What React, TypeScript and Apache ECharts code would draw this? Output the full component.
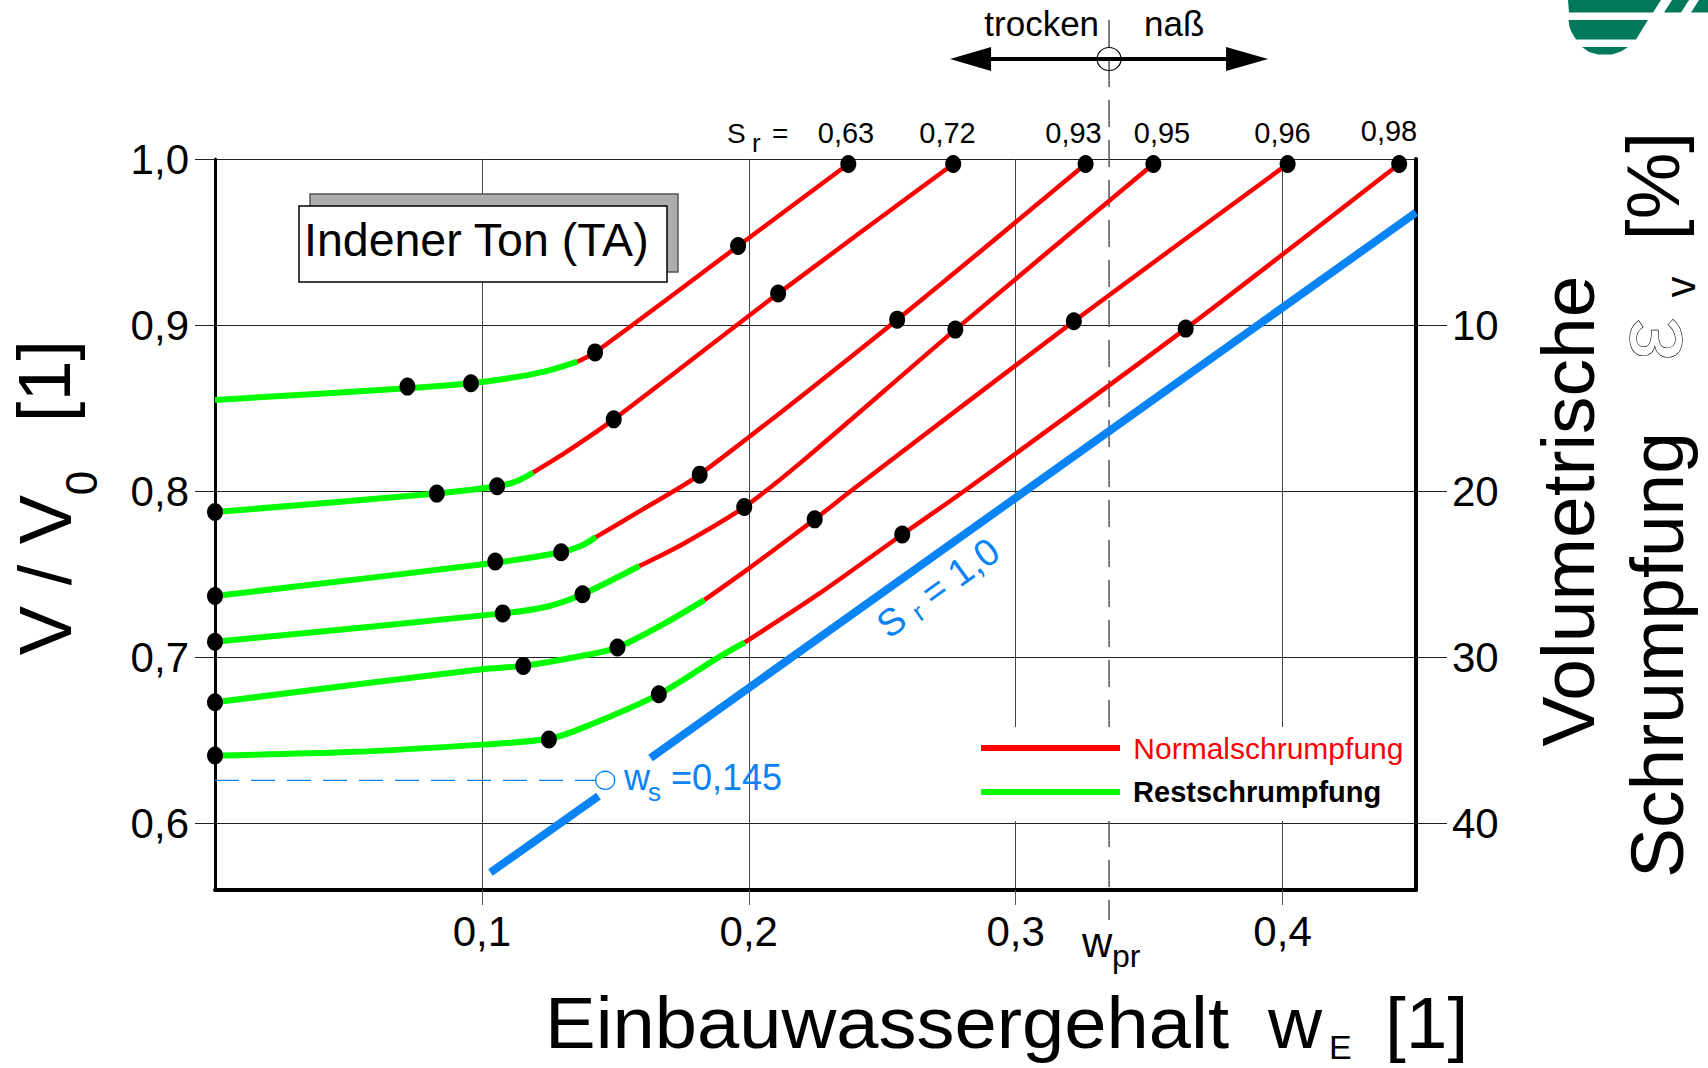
import React, { useEffect, useRef } from 'react';
import * as echarts from 'echarts';

const FONT = '"Liberation Sans", Arial, Helvetica, sans-serif';
const RED = '#ff0000';
const GREEN = '#00ff00';
const BLUE = '#0a84f5';
const LOGO_GREEN = '#00785a';

// ---- axis ticks / labels ----
const X_TICKS = [0.1, 0.2, 0.3, 0.4];
const Y_TICKS = [0.6, 0.7, 0.8, 0.9, 1.0];
const SHRINK_TICKS = [10, 20, 30, 40];
const SR_LABELS = ['0,63', '0,72', '0,93', '0,95', '0,96', '0,98'];

// ---- special values ----
const W_PR = 0.335;
const W_S_MARK = [0.1462, 0.626];
const W_S_GUIDE = [[0, 0.626], [0.1428, 0.626]];

// ---- saturation line S_r = 1,0 (two segments, gap at w_s label) ----
const SAT_LOW = [[0.1032, 0.5705], [0.1437, 0.6165]];
const SAT_HIGH = [[0.1632, 0.6395], [0.45, 0.9678]];

// ---- curves: Restschrumpfung (green) + Normalschrumpfung (red) + measured points ----
const REST_063 = [[0, 0.855], [0.0721, 0.862], [0.0959, 0.865], [0.11, 0.868], [0.1245, 0.8725], [0.1358, 0.878]];
const NORMAL_063 = [[0.1358, 0.878], [0.1424, 0.8836], [0.196, 0.9476], [0.2373, 0.997]];
const POINTS_063 = [[0.0721, 0.863], [0.0959, 0.865], [0.1424, 0.8836], [0.196, 0.9476], [0.2373, 0.997]];

const REST_072 = [[0, 0.7875], [0.0831, 0.7986], [0.1057, 0.803], [0.113, 0.806], [0.1192, 0.8113]];
const NORMAL_072 = [[0.1192, 0.8113], [0.1308, 0.8228], [0.1494, 0.8433], [0.211, 0.919], [0.2766, 0.997]];
const POINTS_072 = [[0, 0.7875], [0.0831, 0.7986], [0.1057, 0.803], [0.1494, 0.8433], [0.211, 0.919], [0.2766, 0.997]];

const REST_093 = [[0, 0.737], [0.105, 0.757], [0.1297, 0.7633], [0.137, 0.767], [0.1427, 0.7724]];
const NORMAL_093 = [[0.1427, 0.7724], [0.1596, 0.7885], [0.1816, 0.81], [0.2556, 0.9033], [0.3262, 0.997]];
const POINTS_093 = [[0, 0.737], [0.105, 0.7577], [0.1297, 0.7633], [0.1816, 0.81], [0.2556, 0.9033], [0.3262, 0.997]];

const REST_095 = [[0, 0.7094], [0.1078, 0.7265], [0.1243, 0.7305], [0.1377, 0.738], [0.159, 0.755]];
const NORMAL_095 = [[0.159, 0.755], [0.175, 0.768], [0.1983, 0.7905], [0.22, 0.818], [0.2774, 0.8973], [0.3516, 0.997]];
const POINTS_095 = [[0, 0.7094], [0.1078, 0.7265], [0.1377, 0.738], [0.1983, 0.7905], [0.2774, 0.8973], [0.3516, 0.997]];

const REST_096 = [[0, 0.673], [0.0998, 0.6929], [0.1155, 0.6949], [0.1377, 0.701], [0.1508, 0.706], [0.168, 0.72], [0.1834, 0.7346]];
const NORMAL_096 = [[0.1834, 0.7346], [0.1998, 0.7533], [0.2247, 0.7831], [0.2381, 0.8], [0.3218, 0.9023], [0.4019, 0.997]];
const POINTS_096 = [[0, 0.673], [0.1155, 0.6949], [0.1508, 0.706], [0.2247, 0.7831], [0.3218, 0.9023], [0.4019, 0.997]];

const REST_098 = [[0, 0.641], [0.05, 0.643], [0.1, 0.6475], [0.1251, 0.651], [0.1377, 0.6576], [0.1663, 0.6778], [0.1885, 0.6999], [0.1985, 0.709]];
const NORMAL_098 = [[0.1985, 0.709], [0.2262, 0.7382], [0.2575, 0.774], [0.2806, 0.8], [0.3637, 0.8979], [0.4437, 0.997]];
const POINTS_098 = [[0, 0.641], [0.1251, 0.6506], [0.1663, 0.6778], [0.2575, 0.774], [0.3637, 0.8979], [0.4437, 0.997]];

const CURVES = [
  { rest: REST_063, normal: NORMAL_063, points: POINTS_063 },
  { rest: REST_072, normal: NORMAL_072, points: POINTS_072 },
  { rest: REST_093, normal: NORMAL_093, points: POINTS_093 },
  { rest: REST_095, normal: NORMAL_095, points: POINTS_095 },
  { rest: REST_096, normal: NORMAL_096, points: POINTS_096 },
  { rest: REST_098, normal: NORMAL_098, points: POINTS_098 },
];

const comma = (v: number) => v.toFixed(1).replace('.', ',');
const near = (v: number, arr: number[]) => arr.some((a) => Math.abs(a - v) < 1e-6);

// text with given alphabetic baseline (horizontal)
const tb = (x: number, baseline: number, text: string, size: number, o: any = {}) => ({
  type: 'text',
  x,
  y: baseline - 0.3465 * size,
  z: 60,
  silent: true,
  scaleX: o.scaleX || 1,
  style: {
    text,
    fontSize: size,
    fontFamily: FONT,
    fill: o.fill || '#000',
    align: o.align || 'left',
    verticalAlign: 'middle',
    fontWeight: o.weight || 'normal',
  },
});

// vertical text reading bottom-to-top, centred
const tv = (cx: number, cy: number, text: string, size: number, o: any = {}) => ({
  type: 'text',
  x: cx,
  y: cy,
  rotation: Math.PI / 2,
  z: 60,
  silent: true,
  style: {
    text,
    fontSize: size,
    fontFamily: FONT,
    fill: o.fill || '#000',
    stroke: o.stroke,
    lineWidth: o.lineWidth || 0,
    align: 'center',
    verticalAlign: 'middle',
  },
});

export default function App() {
  const ref = useRef<HTMLDivElement>(null);

  useEffect(() => {
    const chart = echarts.init(ref.current as HTMLDivElement, null, { renderer: 'svg' });

    const series: any[] = [];
    CURVES.forEach((c) => {
      series.push({
        type: 'line',
        name: 'Restschrumpfung',
        data: c.rest,
        smooth: 0.3,
        symbol: 'none',
        color: GREEN,
        lineStyle: { width: 6, color: GREEN },
        z: 3,
      });
      series.push({
        type: 'line',
        name: 'Normalschrumpfung',
        data: c.normal,
        smooth: 0.25,
        symbol: 'none',
        color: RED,
        lineStyle: { width: 4.5, color: RED },
        z: 3,
      });
    });
    series.push({
      type: 'line',
      name: 'Sr1a',
      data: SAT_LOW,
      symbol: 'none',
      color: BLUE,
      lineStyle: { width: 8, color: BLUE, cap: 'butt' },
      z: 2,
    });
    series.push({
      type: 'line',
      name: 'Sr1b',
      data: SAT_HIGH,
      symbol: 'none',
      color: BLUE,
      lineStyle: { width: 8, color: BLUE, cap: 'butt' },
      z: 2,
    });
    series.push({
      type: 'line',
      name: 'wsGuide',
      data: W_S_GUIDE,
      symbol: 'none',
      color: BLUE,
      lineStyle: { width: 1.3, color: BLUE, type: [24, 12] },
      z: 2,
    });
    series.push({
      type: 'scatter',
      name: 'wsMark',
      data: [W_S_MARK],
      symbol: 'circle',
      symbolSize: [19, 18],
      itemStyle: { color: 'rgba(255,255,255,0)', borderColor: BLUE, borderWidth: 1.3, opacity: 1 },
      z: 6,
    });
    series.push({
      type: 'scatter',
      name: 'Messpunkte',
      data: CURVES.flatMap((c) => c.points),
      symbol: 'circle',
      symbolSize: [16, 18],
      itemStyle: { color: '#000', opacity: 1 },
      z: 5,
    });

    const option: any = {
      animation: false,
      backgroundColor: '#fff',
      textStyle: { fontFamily: FONT },
      grid: { left: 215, right: 292, top: 159, bottom: 178, containLabel: false },
      legend: {
        data: [
          { name: 'Normalschrumpfung', textStyle: { color: RED, fontSize: 30, fontWeight: 'normal' } },
          { name: 'Restschrumpfung', textStyle: { color: '#000', fontSize: 29, fontWeight: 'bold' } },
        ],
        formatter: (name: string) => ' ' + name,
        orient: 'vertical',
        left: 965,
        top: 727,
        padding: [4, 2, 12, 16],
        itemWidth: 139,
        itemHeight: 6,
        itemGap: 10,
        icon: 'rect',
        backgroundColor: '#fff',
        selectedMode: false,
        textStyle: { fontFamily: FONT, lineHeight: 34 },
        z: 8,
      },
      xAxis: {
        type: 'value',
        min: 0,
        max: 0.45,
        interval: 0.1,
        axisLine: { show: true, onZero: false, lineStyle: { color: '#000', width: 4 } },
        axisTick: { show: true, length: 15, customValues: X_TICKS, lineStyle: { color: '#555', width: 1 } },
        axisLabel: {
          customValues: X_TICKS,
          formatter: (v: number) => (near(v, X_TICKS) ? comma(v) : ''),
          fontSize: 42,
          color: '#000',
          fontFamily: FONT,
          margin: 20,
        },
        splitLine: { show: true, lineStyle: { color: '#444', width: 1 } },
      },
      yAxis: [
        {
          type: 'value',
          min: 0.56,
          max: 1.0,
          position: 'left',
          axisLine: { show: true, onZero: false, lineStyle: { color: '#000', width: 3 } },
          axisTick: { show: true, length: 20, customValues: Y_TICKS, lineStyle: { color: '#222', width: 1 } },
          axisLabel: {
            customValues: Y_TICKS,
            formatter: (v: number) => (near(v, Y_TICKS) ? comma(v) : ''),
            fontSize: 42,
            color: '#000',
            fontFamily: FONT,
            margin: 26,
          },
          splitLine: { show: true, lineStyle: { color: '#222', width: 1 } },
        },
        {
          type: 'value',
          min: 0,
          max: 44,
          interval: 10,
          inverse: true,
          position: 'right',
          axisLine: { show: true, onZero: false, lineStyle: { color: '#000', width: 4 } },
          axisTick: { show: true, length: 31, customValues: SHRINK_TICKS, lineStyle: { color: '#222', width: 1 } },
          axisLabel: {
            customValues: SHRINK_TICKS,
            formatter: (v: number) => (near(v, SHRINK_TICKS) ? String(v) : ''),
            fontSize: 42,
            color: '#000',
            fontFamily: FONT,
            margin: 36,
          },
          splitLine: { show: false },
        },
      ],
      series,
    };

    chart.setOption(option);

    const wx = chart.convertToPixel({ xAxisIndex: 0 }, W_PR) as number;
    const ay = 59;

    const srX = [846, 947.5, 1073.5, 1162, 1282.5, 1389];
    const srBase = [143, 143, 143, 143, 143, 141];

    const graphic: any[] = [
      // Indener Ton box
      { type: 'rect', z: 50, silent: true, shape: { x: 310, y: 194, width: 368, height: 78 }, style: { fill: '#adadad', stroke: '#555', lineWidth: 1.5 } },
      { type: 'rect', z: 51, silent: true, shape: { x: 299, y: 206, width: 368, height: 76 }, style: { fill: '#fff', stroke: '#000', lineWidth: 1.5 } },
      tb(304, 256, 'Indener Ton (TA)', 46.5),

      // w_pr dashed line, circle, arrow
      { type: 'line', z: 1, silent: true, shape: { x1: wx, y1: 20, x2: wx, y2: 920 }, style: { stroke: '#555', lineWidth: 1.5, lineDash: [27, 13] } },
      { type: 'line', z: 55, silent: true, shape: { x1: wx - 122, y1: ay, x2: wx + 120, y2: ay }, style: { stroke: '#000', lineWidth: 4 } },
      { type: 'polygon', z: 55, silent: true, shape: { points: [[wx - 159, ay], [wx - 118, ay - 12], [wx - 118, ay + 12]] }, style: { fill: '#000' } },
      { type: 'polygon', z: 55, silent: true, shape: { points: [[wx + 159, ay], [wx + 117, ay - 12], [wx + 117, ay + 12]] }, style: { fill: '#000' } },
      { type: 'ellipse', z: 56, silent: true, shape: { cx: wx, cy: ay, rx: 12, ry: 11.5 }, style: { fill: 'none', stroke: '#000', lineWidth: 1.2 } },
      tb(wx - 10, 36, 'trocken', 35, { align: 'right' }),
      tb(wx + 35, 36, 'naß', 35),
      tb(wx - 27, 957, 'w', 42),
      tb(wx + 3, 967, 'pr', 32),

      // S_r = labels at top
      tb(727, 143, 'S', 28),
      tb(752, 152, 'r', 26),
      tb(772, 143, '=', 28),
      ...SR_LABELS.map((s, i) => tb(srX[i], srBase[i], s, 29, { align: 'center' })),

      // y-axis name
      tv(45, 575, 'V / V', 74),
      tv(81, 483, '0', 44),
      tv(44, 381, '[1]', 74),

      // x-axis name
      tb(545, 1048, 'Einbauwassergehalt', 72, { scaleX: 1.055 }),
      tb(1268, 1048, 'w', 72, { scaleX: 1.04 }),
      tb(1329, 1059, 'E', 34),
      tb(1385, 1048, '[1]', 72, { scaleX: 1.04 }),

      // right axis name
      tv(1568, 511, 'Volumetrische', 75),
      tv(1657, 655, 'Schrumpfung', 75),
      tv(1648, 339, 'ε', 95, { fill: '#fff', stroke: '#000', lineWidth: 1.2 }),
      tv(1680, 287, 'v', 42),
      tv(1653, 186, '[%]', 75),

      // S_r = 1,0 label along the saturation line
      {
        type: 'text',
        x: 938,
        y: 588,
        rotation: (36 * Math.PI) / 180,
        z: 60,
        silent: true,
        style: {
          text: '{a|S }{b|r}{a| = 1,0}',
          align: 'center',
          verticalAlign: 'middle',
          fill: BLUE,
          rich: {
            a: { fontSize: 38, lineHeight: 42, fontFamily: FONT, fill: BLUE, color: BLUE },
            b: { fontSize: 26, lineHeight: 16, verticalAlign: 'bottom', fontFamily: FONT, fill: BLUE, color: BLUE },
          },
        },
      },

      // w_s label
      tb(624, 790, 'w', 36, { fill: BLUE }),
      tb(648, 801, 's', 26, { fill: BLUE }),
      tb(671, 790, '=0,145', 36, { fill: BLUE }),

      // logo (top right corner)
      { type: 'polygon', z: 60, silent: true, shape: { points: [[1568, 0], [1661, 0], [1653, 12.5], [1569, 12.5]] }, style: { fill: LOGO_GREEN } },
      { type: 'polygon', z: 60, silent: true, shape: { points: [[1664, 12.5], [1672, 0], [1689, 0], [1681, 12.5]] }, style: { fill: LOGO_GREEN } },
      { type: 'polygon', z: 60, silent: true, shape: { points: [[1691, 12.5], [1699, 0], [1708, 0], [1708, 12.5]] }, style: { fill: LOGO_GREEN } },
      { type: 'polygon', z: 60, silent: true, shape: { points: [[1568.5, 20], [1648, 20], [1636, 39.5], [1576, 39.5], [1572, 33], [1569.5, 27]] }, style: { fill: LOGO_GREEN } },
      { type: 'polygon', z: 60, silent: true, shape: { points: [[1582, 47], [1628, 47], [1621, 51.5], [1612, 54.5], [1598, 54.5], [1589, 52]] }, style: { fill: LOGO_GREEN } },
    ];

    chart.setOption({ graphic });

    return () => {
      chart.dispose();
    };
  }, []);

  return (
    <div
      ref={ref}
      style={{ position: 'absolute', left: 0, top: 0, width: 1708, height: 1068, background: '#fff' }}
    />
  );
}
